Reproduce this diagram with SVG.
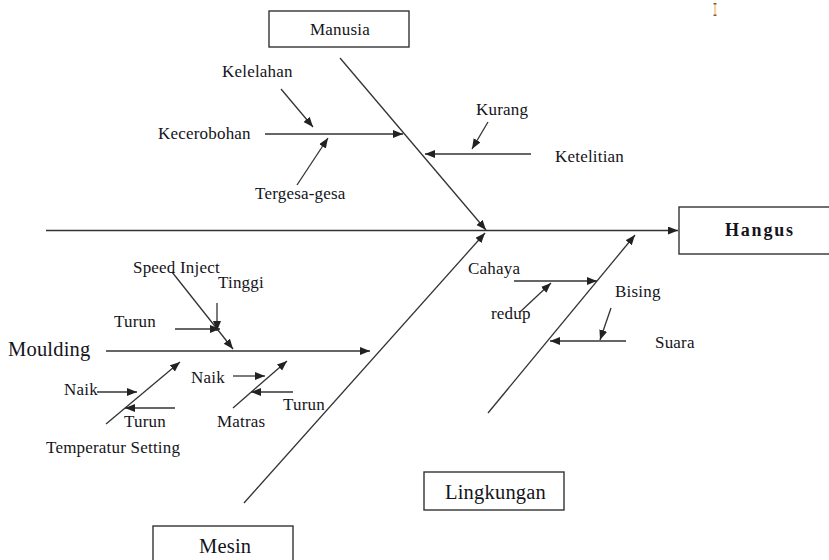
<svg xmlns="http://www.w3.org/2000/svg" width="829" height="560" viewBox="0 0 829 560">
<defs>
<marker id="ah" markerUnits="userSpaceOnUse" markerWidth="11" markerHeight="9" refX="10" refY="4" orient="auto">
<path d="M0,0 L10,4 L0,8 z" fill="#222"/>
</marker>
<style>
.box{fill:#fff;stroke:#333;stroke-width:1.4}
.ar{fill:none;stroke:#333;stroke-width:1.3;marker-end:url(#ah)}
text{font-family:"Liberation Serif","Times New Roman",serif;fill:#141420}
.s{font-size:17px;letter-spacing:0.2px}
.l{font-size:20.5px;letter-spacing:0.2px}
.b{font-size:18px;font-weight:bold;letter-spacing:1.8px}
</style>
</defs>
<rect width="829" height="560" fill="#fff"/>
<g id="stray"><rect x="714" y="3" width="2.2" height="13" fill="#f3d6a4"/><rect x="713.5" y="3" width="3" height="1.5" fill="#8a5a30"/><rect x="713.5" y="14.5" width="3" height="1.5" fill="#8a5a30"/></g>
<g id="connectors">
<path class="ar" d="M46,230.5 L678,230.5"/>
<path class="ar" d="M340,58 L486,230"/>
<path class="ar" d="M265,134 L403,134"/>
<path class="ar" d="M281,89 L313,127"/>
<path class="ar" d="M297,185 L328,138"/>
<path class="ar" d="M488,122 L472,149"/>
<path class="ar" d="M531,154 L425,154"/>
<path class="ar" d="M244,503 L485,233"/>
<path class="ar" d="M106,351 L370,351"/>
<path class="ar" d="M172,272 L233,349"/>
<path class="ar" d="M217,303 L217,331"/>
<path class="ar" d="M175,329 L220,329"/>
<path class="ar" d="M106,424 L180,362"/>
<path class="ar" d="M97,392 L137,392"/>
<path class="ar" d="M175,408 L125,408"/>
<path class="ar" d="M233,408 L287,361"/>
<path class="ar" d="M233,376 L265,376"/>
<path class="ar" d="M293,392 L251,392"/>
<path class="ar" d="M488,413 L635,235"/>
<path class="ar" d="M514,281 L597,281"/>
<path class="ar" d="M520,312 L551,283"/>
<path class="ar" d="M611,308 L600,340"/>
<path class="ar" d="M626,341 L550,341"/>
</g>
<g id="manusia"><rect class="box" x="269" y="11" width="140" height="36"/><text class="s" x="310" y="35">Manusia</text></g>
<g id="hangus"><rect class="box" x="679" y="207" width="170" height="47"/><text class="b" x="725" y="236">Hangus</text></g>
<g id="mesin"><rect class="box" x="153" y="526" width="140" height="50"/><text class="l" x="199" y="553">Mesin</text></g>
<g id="lingkungan"><rect class="box" x="424" y="472" width="140" height="38"/><text class="l" x="445" y="499">Lingkungan</text></g>
<g id="kelelahan"><text class="s" x="222" y="77">Kelelahan</text></g>
<g id="kecerobohan"><text class="s" x="158" y="139">Kecerobohan</text></g>
<g id="tergesa"><text class="s" x="255" y="199">Tergesa-gesa</text></g>
<g id="kurang"><text class="s" x="476" y="115">Kurang</text></g>
<g id="ketelitian"><text class="s" x="555" y="162">Ketelitian</text></g>
<g id="speed"><text class="s" x="133" y="273">Speed Inject</text></g>
<g id="tinggi"><text class="s" x="218" y="288">Tinggi</text></g>
<g id="turun1"><text class="s" x="114" y="327">Turun</text></g>
<g id="moulding"><text class="l" x="8" y="356">Moulding</text></g>
<g id="naik1"><text class="s" x="64" y="395">Naik</text></g>
<g id="naik2"><text class="s" x="191" y="383">Naik</text></g>
<g id="turun3"><text class="s" x="283" y="410">Turun</text></g>
<g id="turun2"><text class="s" x="124" y="427">Turun</text></g>
<g id="matras"><text class="s" x="217" y="427">Matras</text></g>
<g id="temperatur"><text class="s" x="46" y="453">Temperatur Setting</text></g>
<g id="cahaya"><text class="s" x="468" y="274">Cahaya</text></g>
<g id="redup"><text class="s" x="491" y="319">redup</text></g>
<g id="bising"><text class="s" x="615" y="297">Bising</text></g>
<g id="suara"><text class="s" x="655" y="348">Suara</text></g>
</svg>
